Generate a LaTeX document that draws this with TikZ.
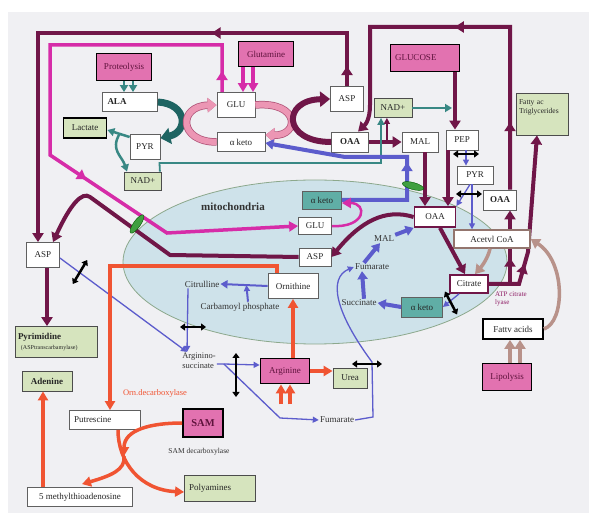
\documentclass[tikz,border=0pt]{standalone}
\usepackage{fontspec}
\setmainfont{Liberation Serif}
\usepackage{xcolor}
\usetikzlibrary{arrows.meta, positioning, calc, shapes.geometric, decorations.markings}
\definecolor{mplum}{RGB}{112,22,72}
\definecolor{magline}{RGB}{214,44,168}
\definecolor{pinkbox}{RGB}{226,114,176}
\definecolor{greenbox}{RGB}{214,228,190}
\definecolor{tealdark}{RGB}{30,100,98}
\definecolor{tealmid}{RGB}{56,136,132}
\definecolor{tealbox}{RGB}{96,174,166}
\definecolor{rosearrow}{RGB}{236,150,180}
\definecolor{roseedge}{RGB}{176,84,120}
\definecolor{indigo}{RGB}{92,92,204}
\definecolor{orangered}{RGB}{240,84,50}
\definecolor{taupe}{RGB}{184,146,138}
\definecolor{mitofill}{RGB}{206,226,234}
\definecolor{mitoedge}{RGB}{140,168,140}
\definecolor{paper}{RGB}{240,240,243}
\newcommand{\antiport}[3]{\draw[exch] ($(#1)+(#2:#3)$) -- ($(#1)-(#2:#3)$);}
\tikzset{
  met/.style={draw=gray!75!black, fill=white, line width=0.8pt, inner sep=2pt, align=center, text=black!85, font=\fontsize{9}{10.5}\selectfont},
  heavy/.style={font=\bfseries\fontsize{9}{10.5}\selectfont},
  product/.style={met, fill=greenbox, draw=gray!60!black},
  source/.style={met, fill=pinkbox, draw=black, line width=1.8pt, text=mplum!85!black},
  mitobox/.style={met, fill=tealbox},
  ringed/.style={met, draw=mplum, line width=1.8pt},
  tag/.style={inner sep=1pt, align=left, text=black!80, font=\fontsize{9}{10.5}\selectfont},
  plumflow/.style={color=mplum, line width=4pt, -{Triangle[length=9pt,width=11pt]}},
  plumbig/.style={color=mplum, line width=6pt, -{Triangle[length=10pt,width=15pt]}},
  magflow/.style={color=magline, line width=3.5pt, -{Triangle[length=9pt,width=10pt]}},
  roseflow/.style={color=rosearrow, line width=6pt, preaction={draw=roseedge, line width=7.5pt}, -{Triangle[length=9pt,width=14pt]}},
  tealbig/.style={color=tealdark, line width=7pt, -{Triangle[length=10pt,width=16pt]}},
  tealflow/.style={color=tealmid, line width=2.5pt, -{Triangle[length=7pt,width=8pt]}},
  tealline/.style={color=tealmid, line width=1.8pt, -{Triangle[length=7pt,width=7pt]}},
  blueflow/.style={color=indigo, line width=4pt, -{Triangle[length=8pt,width=10pt]}},
  bluethin/.style={color=indigo, line width=1.3pt, -{Triangle[length=6pt,width=6pt]}},
  orflow/.style={color=orangered, line width=3.5pt, -{Triangle[length=9pt,width=10pt]}},
  brownflow/.style={color=taupe, line width=3.5pt, -{Triangle[length=9pt,width=11pt]}},
  exch/.style={color=black, line width=2.5pt, {Triangle[length=5pt,width=7pt]}-{Triangle[length=5pt,width=7pt]}},
  midarrow/.style={postaction={decorate, decoration={markings, mark=at position #1 with {\arrow{Triangle[length=9pt,width=11pt]}}}}},
  channel/.style={ellipse, draw=green!35!black, fill=green!50!black!75, minimum width=22pt, minimum height=7pt, inner sep=0pt}
}
\begin{document}
\begin{tikzpicture}[x=1pt, y=-1pt]
    \useasboundingbox (0,0) rectangle (600,521);
    \fill[paper] (8,12) rectangle (589,513);
    \draw[mitoedge, fill=mitofill, line width=0.8pt] (315,262) ellipse [x radius=192, y radius=82];

    % cytosol
    \node[source, minimum width=55, minimum height=27] (proteo) at (124,67) {Proteolysis};
    \node[source, minimum width=55, minimum height=25] (glutamine) at (266,54) {Glutamine};
    \node[source, minimum width=69, minimum height=27, text width=60, align=left] (glucose) at (425,58) {GLUCOSE};
    \node[met, heavy, minimum width=55, minimum height=19, text width=45, align=left] (ala) at (130,102) {ALA};
    \node[met, minimum width=38, minimum height=25] (gluc) at (236,105) {GLU};
    \node[met, minimum width=33, minimum height=25] (asptop) at (347,99) {ASP};
    \node[product, draw=black, line width=1.8pt, minimum width=43, minimum height=20] (lactate) at (85,128) {Lactate};
    \node[met, minimum width=30, minimum height=25] (pyrc) at (145,147) {PYR};
    \node[met, minimum width=48, minimum height=19] (akc) at (241,142) {α keto};
    \node[product, minimum width=37, minimum height=18] (nadl) at (143,181) {NAD+};
    \node[met, heavy, minimum width=37, minimum height=20] (oaat) at (350,142) {OAA};
    \node[product, minimum width=38, minimum height=19] (nadt) at (393,108) {NAD+};
    \node[met, minimum width=36, minimum height=20] (malt) at (420,142) {MAL};
    \node[met, minimum width=32, minimum height=20] (pep) at (462,140) {PEP};
    \node[product, minimum width=52, minimum height=42, text width=46, align=left, font=\fontsize{7.5}{9}\selectfont] (fatri) at (542,114) {Fatty ac\\Triglycerides\\\rule{0pt}{13pt}};
    \node[met, minimum width=36, minimum height=18] (pyrr) at (475,175) {PYR};
    \node[met, heavy, minimum width=33, minimum height=20] (oaar) at (500,200) {OAA};
    \node[met, minimum width=33, minimum height=25] (aspl) at (43,255) {ASP};
    \node[product, minimum width=82, minimum height=31, text width=76, align=left] (pyrim) at (56,342) {\textbf{Pyrimidine}\\{\fontsize{6}{7}\selectfont\ (ASPtranscarbamylase)}};
    \node[product, heavy, minimum width=50, minimum height=20] (adenine) at (47,381) {Adenine};
    \node[met, minimum width=71, minimum height=19, text width=62, align=left] (putr) at (105,420) {Putrescine};
    \node[source, minimum width=40, minimum height=28, font=\bfseries\fontsize{10.5}{12}\selectfont] (sam) at (203,423) {SAM};
    \node[product, minimum width=71, minimum height=26, text width=62, align=left] (polya) at (220,488) {Polyamines};
    \node[met, minimum width=105, minimum height=19] (mta) at (80,497) {5 methylthioadenosine};
    \node[source, minimum width=49, minimum height=25] (arg) at (285,371) {Arginine};
    \node[product, minimum width=34, minimum height=20] (urea) at (350,378) {Urea};
    \node[met, draw=black, line width=1.8pt, minimum width=60, minimum height=20] (facids) at (513,329) {Fattv acids};
    \node[source, minimum width=49, minimum height=27] (lipo) at (507,377) {Lipolysis};

    % mitochondria
    \node[mitobox, minimum width=39, minimum height=18] (akm) at (322,200) {α keto};
    \node[met, minimum width=33, minimum height=17] (glum) at (315,226) {GLU};
    \node[met, minimum width=32, minimum height=18] (aspm) at (315,257) {ASP};
    \node[ringed, minimum width=41, minimum height=20] (oaam) at (435,217) {OAA};
    \node[ringed, minimum width=38, minimum height=18] (citrate) at (469,284) {Citrate};
    \node[mitobox, minimum width=41, minimum height=20] (akb) at (422,307) {α keto};
    \node[met, minimum width=50, minimum height=25] (orn) at (293,286) {Ornithine};

    \node[tag, font=\bfseries\fontsize{11}{12}\selectfont] (mitolabel) at (233,207) {mitochondria};
    \node[tag] (citrul) at (202,284) {Citrulline};
    \node[tag] (carbp) at (240,307) {Carbamoyl phosphate};
    \node[tag, font=\fontsize{8.5}{10}\selectfont] (argsuc) at (199,361) {Arginino-\\succinate};
    \node[tag, text=orangered, font=\fontsize{8.5}{10}\selectfont] (orndec) at (155,393) {Orn.decarboxylase};
    \node[tag, font=\fontsize{7.5}{9}\selectfont] (samdec) at (199,452) {SAM decarboxylase};
    \node[tag] (fumb) at (337,420) {Fumarate};
    \node[tag] (malm) at (384,239) {MAL};
    \node[tag] (fumm) at (372,267) {Fumarate};
    \node[tag] (succ) at (359,303) {Succinate};
    \node[tag, text=mplum!70!magline, font=\fontsize{7}{8.5}\selectfont] (atpcl) at (511,299) {ATP citrate\\lyase};

    % long plum loops
    \draw[plumflow, midarrow=0.035, midarrow=0.33] (asptop.north) -- (347,33) -- (38,33) -- ([xshift=-5]aspl.north);
    \draw[plumflow, midarrow=0.164, midarrow=0.53] ([xshift=10]oaar.north) -- (510,27) -- (370,27) -- (370,105) .. controls (370,120) and (365,125) .. ([xshift=8]oaat.north);
    \draw[plumflow, midarrow=0.5] (citrate.east) -- (510,284) -- ([xshift=10]oaar.south);
    \draw[plumflow, midarrow=0.28] (citrate.east) -- (519,284) -- (528,252) -- ([xshift=-5]fatri.south);
    \draw[plumflow] (aspm.west) -- (170,255) -- (90,197) .. controls (82,191) and (70,205) .. ([xshift=10]aspl.north);
    \draw[plumflow] ([xshift=4]aspl.south) -- ([xshift=-9]pyrim.north);

    \node[met, draw=taupe!80!black, line width=1.4pt, minimum width=76, minimum height=18] (acoa) at (492,239) {Acetvl CoA};

    % cytosol reactions
    \draw[plumflow] (oaat.east) -- (malt.west);
    \coordinate (oammid) at ($(oaat.east)!0.55!(malt.west)$);
    \draw[plumflow, line width=2pt, -{Triangle[length=6pt,width=6pt]}] (oammid) -- (oammid |- nadt.south);
    \draw[tealline] ([xshift=-2]nadl.north east) -- (159.5,163) -- (381,163) -- ([xshift=-12]nadt.south);
    \coordinate (pepfeed) at (452,108);
    \draw[tealflow] (nadt.east) -- (pepfeed);
    \draw[plumflow] ([xshift=30]glucose.south) -- ([xshift=-7]pep.north);
    \draw[plumflow] ([xshift=5]malt.south) -- ([xshift=-10]oaam.north);
    \draw[plumflow] ([xshift=-14]pep.south) -- ([xshift=13]oaam.north);
    \draw[bluethin] ([xshift=4]pep.south) -- ([xshift=-9]pyrr.north);
    \draw[bluethin] ([xshift=-3]pyrr.south) -- ([xshift=-20]acoa.north);
    \draw[bluethin] ([xshift=-5]pyrr.south) -- (oaam.north east);

    \draw[tealflow] ([xshift=0]proteo.south) -- ([xshift=-6]ala.north);
    \draw[tealflow] ([xshift=9]proteo.south) -- ([xshift=3]ala.north);
    \draw[magflow] ([xshift=-23]glutamine.south) -- ([xshift=7]gluc.north);
    \draw[magflow] ([xshift=-13]glutamine.south) -- ([xshift=17]gluc.north);
    \draw[tealbig] (ala.east) .. controls (188,104) and (188,132) .. ([yshift=-4]pyrc.north east);
    \draw[roseflow] (akc.west) .. controls (178,142) and (178,106) .. (gluc.west);
    \draw[roseflow] (gluc.east) .. controls (300,101) and (300,136) .. ([yshift=7]akc.east);
    \draw[plumbig] (oaat.west) .. controls (282,142) and (282,100) .. (asptop.west);
    \draw[tealflow] ([yshift=10]pyrc.west) -- ([yshift=-2]lactate.east);
    \coordinate (pyrfork) at ($([yshift=10]pyrc.west)!0.45!([yshift=-2]lactate.east)$);
    \draw[tealflow] (pyrfork) .. controls (110,150) and (122,156) .. ([xshift=-16]nadl.north);

    \draw[magflow, midarrow=0.035, midarrow=0.62] ([xshift=-14]gluc.north) -- (222,45) -- (50,45) -- (50,155) -- (167,233) -- (glum.west);
    \draw[blueflow, midarrow=0.41] (akm.east) -- (407,200) -- (407,157) -- (345,157) -- ([yshift=-1]akc.east);

    % mitochondrial reactions
    \draw[magflow, line width=2.5pt] (glum.east) .. controls (366,228) and (368,203) .. ([yshift=-3]akm.east);
    \draw[plumflow] (oaam.west) .. controls (385,208) and (360,222) .. (aspm.east);
    \draw[plumflow] ([xshift=5]oaam.south) -- ([xshift=-4]citrate.north);
    \draw[brownflow] ([xshift=-2]acoa.south) .. controls (488,258) and (482,266) .. ([xshift=6]citrate.north);
    \draw[brownflow] (facids.east) .. controls (565,322) and (566,262) .. (acoa.east);
    \draw[brownflow] ([xshift=3]lipo.north) -- ([xshift=-3]facids.south);
    \draw[brownflow] ([xshift=13]lipo.north) -- ([xshift=7]facids.south);
    \draw[blueflow] (akb.west) -- (succ.east);
    \draw[blueflow] ([xshift=5]succ.north) -- ([xshift=-10]fumm.south);
    \draw[blueflow] ([xshift=-8]fumm.north) -- ([xshift=-4]malm.south);
    \draw[blueflow] (malm.north east) -- (oaam.south west);
    \draw[bluethin] ([xshift=-10]citrate.south) -- (akb.east);

    % urea cycle and polyamines
    \draw[blueflow, line width=2pt, -{Triangle[length=7pt,width=8pt]}] (orn.west) -- (citrul.east);
    \coordinate (orncit) at ($(orn.west)!0.45!(citrul.east)$);
    \draw[bluethin, line width=2pt] ([xshift=8]carbp.north) -- (orncit);
    \draw[bluethin] ([xshift=-14]citrul.south) -- ([xshift=-12]argsuc.north);
    \draw[bluethin] ([yshift=-3]aspl.east) -- ([xshift=-12]argsuc.north);
    \coordinate (argfork) at ([xshift=7,yshift=-3]argsuc.east);
    \draw[bluethin] ([yshift=-3]argsuc.east) -- (argfork) -- ([yshift=6]arg.west);
    \draw[bluethin] (argfork) -- (280,418) -- (fumb.west);
    \draw[bluethin] (fumb.east) -- (373,417) -- (372,362) .. controls (335,312) and (328,278) .. (fumm.west);
    \draw[orflow] (arg.east) -- (arg.east -| urea.west);
    \draw[orflow] ([xshift=8]arg.north) -- (orn.south);
    \draw[orflow] ($(arg.south)+(-4,20)$) -- ([xshift=-4]arg.south);
    \draw[orflow] ($(arg.south)+(5,20)$) -- ([xshift=5]arg.south);
    \draw[orflow] ([xshift=-16]orn.north) -- ++(0,-7) -| ([xshift=5]putr.north);
    \draw[orflow] ([xshift=13]putr.south) .. controls (118,462) and (140,490) .. ([yshift=-4]polya.west);
    \coordinate (samjoin) at (124,456);
    \draw[orflow] (sam.west) .. controls (150,423) and (124,430) .. (samjoin);
    \draw[orflow] (samjoin) .. controls (126,470) and (110,476) .. ([xshift=2,yshift=3]mta.north);
    \draw[orflow] ([xshift=-37]mta.north) -- ([xshift=-4]adenine.south);

    % exchangers
    \coordinate (aspport) at (80,272);
    \coordinate (citport) at (193,327);
    \coordinate (argport) at (236,375);
    \coordinate (fumport) at (367,364);
    \coordinate (pepport) at (466,154);
    \coordinate (pyrport) at (469,194);
    \coordinate (citkport) at (451,303);
    \antiport{aspport}{-59}{14}
    \antiport{citport}{0}{13}
    \antiport{argport}{90}{22}
    \antiport{fumport}{0}{15}
    \antiport{pepport}{0}{13}
    \antiport{pyrport}{0}{13}
    \antiport{citkport}{62}{13}

    \node[channel, rotate=55] (chanl) at (137,224) {};
    \node[channel, rotate=-15] (chanr) at (413,186) {};
\end{tikzpicture}
\end{document}
